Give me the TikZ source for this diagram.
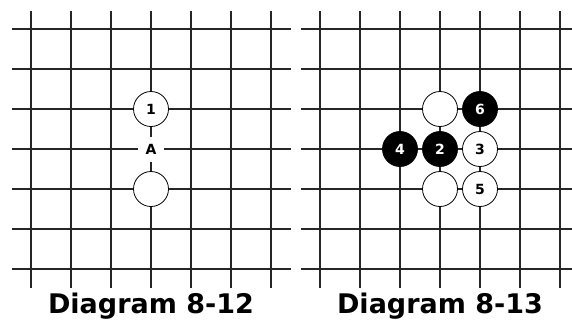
\documentclass[tikz,border=0pt]{standalone}
\usepackage{fontspec}
\setsansfont{DejaVu Sans}
\usetikzlibrary{positioning}

\begin{document}
\begin{tikzpicture}[x=1pt, y=-1pt,
    gitter/.style={black!85, line width=2pt},
    weiss/.style={circle, draw=black, line width=0.8pt, fill=white,
      minimum size=35pt, inner sep=0pt,
      font=\sffamily\bfseries\fontsize{14}{14}\selectfont},
    schwarz/.style={weiss, fill=black, text=white},
    marke/.style={fill=white, inner sep=0pt, minimum width=26pt,
      minimum height=25pt, font=\sffamily\bfseries\fontsize{14}{14}\selectfont},
    titel/.style={anchor=base, font=\sffamily\bfseries\fontsize{27}{27}\selectfont}]
  \useasboundingbox[fill=white] (0,0) rectangle (572,322);
  % beide Bretter
  \foreach \dx/\rechts in {0/291, 289/572} {
    \foreach \i in {0,...,6} {
      \draw[gitter] (12+\dx,29+40*\i) -- (\rechts,29+40*\i);
      \draw[gitter] (31+\dx+40*\i,11) -- (31+\dx+40*\i,288);
    }
  }
  % Diagramm 8-12
  \node[weiss] (eins) at (151,109) {1};
  \node[marke] (a) at (151,149.5) {A};
  \node[weiss] (unten) at (151,189) {};
  \node[titel] (titelL) at (151,313) {Diagram 8-12};
  % Diagramm 8-13
  \node[schwarz] (zwei) at (440,149) {2};
  \node[weiss, right=4.2pt of zwei] (drei) {3};
  \node[schwarz, left=4.2pt of zwei] (vier) {4};
  \node[weiss, above=4.2pt of zwei] (oben) {};
  \node[schwarz, right=4.2pt of oben] (sechs) {6};
  \node[weiss, below=4.2pt of zwei] (mitte) {};
  \node[weiss, right=4.2pt of mitte] (fuenf) {5};
  \node[titel] (titelR) at (440,313) {Diagram 8-13};
\end{tikzpicture}
\end{document}
